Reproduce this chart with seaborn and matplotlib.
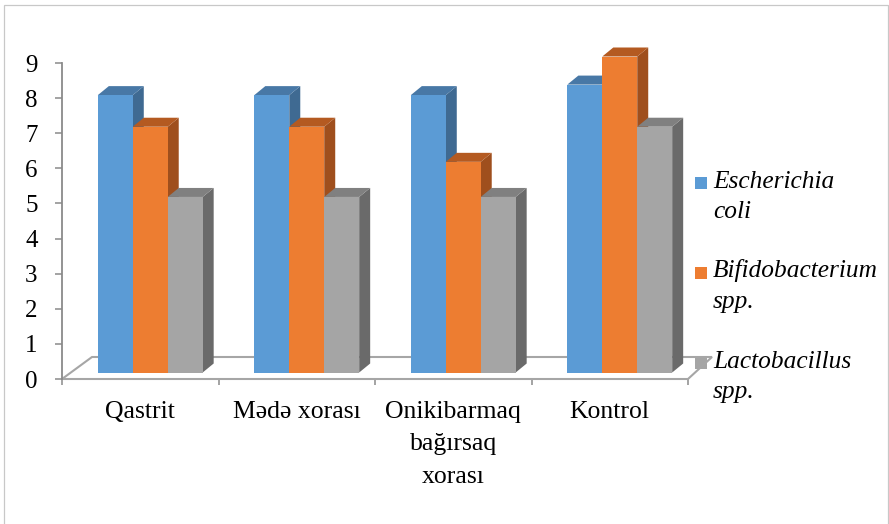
import numpy as np
import pandas as pd
import matplotlib
matplotlib.use("Agg")
import matplotlib.pyplot as plt
import matplotlib.transforms as mtransforms
from matplotlib.patches import Polygon, Rectangle
import seaborn as sns

# ---- data -------------------------------------------------------------
categories = ["Qastrit", "Mədə xorası", "Onikibarmaq\nbağırsaq\nxorası", "Kontrol"]
series = ["Escherichia\ncoli", "Bifidobacterium\nspp.", "Lactobacillus\nspp."]
e_coli = [7.9, 7.9, 7.9, 8.2]
bifido = [7.0, 7.0, 6.0, 9.0]
lacto = [5.0, 5.0, 5.0, 7.0]
y_ticks = list(range(0, 10))

# ---- style ------------------------------------------------------------
front_colors = ["#5B9BD5", "#ED7D31", "#A5A5A5"]
side_colors = ["#3F6A92", "#9F4F1D", "#6A6A6A"]
top_colors = ["#4878A6", "#B45A21", "#808080"]
axis_gray = "#8A8A8A"

df = pd.DataFrame({
    "group": categories * 3,
    "series": np.repeat(series, len(categories)),
    "value": e_coli + bifido + lacto,
})

W, H, DPI = 889, 524, 100
sns.set_theme(style="white")
plt.rcParams["font.family"] = ["Liberation Serif", "DejaVu Serif"]

fig = plt.figure(figsize=(W / DPI, H / DPI), dpi=DPI)
fig.patch.set_facecolor("white")
ax = fig.add_axes([62 / W, 1 - 379 / H, 626 / W, 316 / H])
ax.set_facecolor("none")

sns.barplot(data=df, x="group", y="value", hue="series", order=categories,
            hue_order=series, palette=front_colors, width=0.67, saturation=1,
            edgecolor="none", linewidth=0, legend=False, ax=ax)

ax.set_xlim(-0.5, len(categories) - 0.5)
ax.set_ylim(0, 9)
ax.set_xlabel("")
ax.set_ylabel("")

# ---- pseudo-3D columns --------------------------------------------------
ident = mtransforms.IdentityTransform()
# columns stand a little behind the front edge of the floor
bar_trans = ax.transData + mtransforms.ScaledTranslation(10 / DPI, 6.5 / DPI, fig.dpi_scale_trans)
depth_dx, depth_dy = 11, 9

bars = sorted([p for p in ax.patches if isinstance(p, Rectangle)], key=lambda p: p.get_x())
for k, bar in enumerate(bars):
    fc = matplotlib.colors.to_hex(bar.get_facecolor())
    idx = [c.lower() for c in front_colors].index(fc.lower())
    x, w, h = bar.get_x(), bar.get_width(), bar.get_height()
    (x0, y0), (x1, y1) = bar_trans.transform([(x, 0), (x + w, h)])
    side = Polygon([(x1, y0), (x1 + depth_dx, y0 + depth_dy),
                    (x1 + depth_dx, y1 + depth_dy), (x1, y1)],
                   closed=True, transform=ident, facecolor=side_colors[idx],
                   edgecolor="none", clip_on=False, zorder=3 + 2 * k)
    top = Polygon([(x0, y1), (x1, y1), (x1 + depth_dx, y1 + depth_dy),
                   (x0 + depth_dx, y1 + depth_dy)],
                  closed=True, transform=ident, facecolor=top_colors[idx],
                  edgecolor="none", clip_on=False, zorder=3 + 2 * k)
    ax.add_patch(side)
    ax.add_patch(top)
    bar.set_transform(bar_trans)
    bar.set_zorder(4 + 2 * k)
    bar.set_clip_on(False)

# ---- floor ------------------------------------------------------------
(fx0, fy0), (fx1, _) = ax.transAxes.transform([(0, 0), (1, 0)])
floor = Polygon([(fx0, fy0), (fx1, fy0), (fx1 + 24, fy0 + 22), (fx0 + 30, fy0 + 22)],
                closed=True, transform=ident, fill=False, edgecolor="#A6A6A6",
                linewidth=1.5, clip_on=False, zorder=1)
ax.add_patch(floor)

# ---- axes, ticks --------------------------------------------------------
for s in ["top", "right", "bottom"]:
    ax.spines[s].set_visible(False)
ax.spines["left"].set_color(axis_gray)
ax.spines["left"].set_linewidth(1.3)

ax.set_yticks(y_ticks)
ax.set_yticklabels([str(t) for t in y_ticks])
ax.tick_params(axis="y", which="major", left=True, length=5, width=1.1,
               color=axis_gray, pad=12.5, labelsize=18, labelcolor="black")

ax.set_xticks(range(len(categories)))
ax.set_xticklabels(categories)
ax.set_xticks(np.arange(-0.5, len(categories), 1.0), minor=True)
ax.tick_params(axis="x", which="major", bottom=True, length=0, pad=16,
               labelsize=18.5, labelcolor="black")
ax.tick_params(axis="x", which="minor", bottom=True, length=4.5, width=1.1,
               color=axis_gray)
for lbl in ax.get_xticklabels():
    lbl.set_linespacing(1.6)
    lbl.set_multialignment("center")
ax.grid(False)

# ---- legend -------------------------------------------------------------
for i, (name, color) in enumerate(zip(series, front_colors)):
    top_px = 177 + 90 * i
    fig.patches.append(Rectangle((695 / W, 1 - (top_px + 12) / H), 12 / W, 12 / H,
                                 transform=fig.transFigure, facecolor=color,
                                 edgecolor="none", zorder=-1))
    # baseline of the second (last) line of each entry
    fig.text(713 / W, 1 - (218 + 90 * i) / H, name, fontsize=18.3, style="italic",
             va="baseline", ha="left", linespacing=1.5, color="black")

# ---- outer frame --------------------------------------------------------
fig.patches.append(Rectangle((3.5 / W, -2 / H), 884 / W, (524 - 5 + 2) / H,
                             transform=fig.transFigure, fill=False,
                             edgecolor="#C8C8C8", linewidth=0.9, zorder=5))

fig.savefig("out.png", dpi=DPI)
